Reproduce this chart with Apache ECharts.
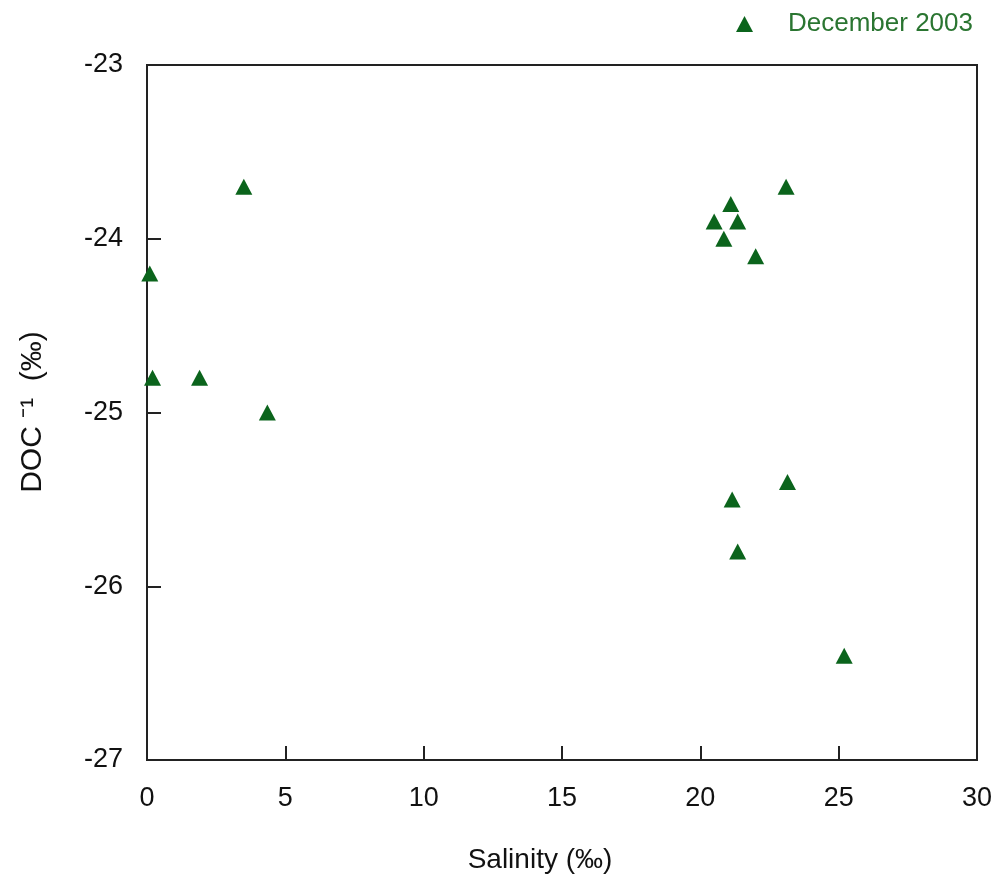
<!DOCTYPE html>
<html>
<head>
<meta charset="utf-8">
<script src="https://cdn.jsdelivr.net/npm/echarts@6/dist/echarts.min.js"></script>
<style>html,body{margin:0;padding:0;background:#fff}#c{width:1000px;height:886px}</style>
</head>
<body>
<div id="c"></div>
<script>
const seriesName = 'December 2003';
const salinity = [3.5, 0.1, 0.2, 1.9, 4.35, 23.1, 21.1, 20.5, 21.35, 20.85, 22.0, 23.15, 21.15, 21.35, 25.2];
const doc = [-23.7, -24.2, -24.8, -24.8, -25.0, -23.7, -23.8, -23.9, -23.9, -24.0, -24.1, -25.4, -25.5, -25.8, -26.4];
const xTicks = [0, 5, 10, 15, 20, 25, 30];
const yTicks = [-27, -26, -25, -24, -23];
const xTitle = 'Salinity (‰)';
const yTitle = 'DOC ⁻¹  (‰)';

const green = '#0b641c';
const font = '"Liberation Sans", Arial, sans-serif';
const chart = echarts.init(document.getElementById('c'));
chart.setOption({
  animation: false,
  backgroundColor: '#fff',
  grid: {left: 147, right: 23, top: 65, bottom: 126, show: true, borderColor: '#222', borderWidth: 2, backgroundColor: 'transparent'},
  legend: {
    data: [seriesName], left: 731, top: 6, icon: 'triangle', itemWidth: 17, itemHeight: 16, itemGap: 10,
    textStyle: {color: '#2a7531', fontSize: 26, fontFamily: font, padding: [0, 0, 0, 30]}
  },
  xAxis: {
    type: 'value', min: xTicks[0], max: xTicks[xTicks.length - 1], interval: 5,
    axisLine: {show: true, lineStyle: {color: '#222', width: 2}},
    axisTick: {show: true, inside: true, length: 14, lineStyle: {color: '#222', width: 2}},
    axisLabel: {color: '#111', fontSize: 27, fontFamily: font, margin: 25},
    splitLine: {show: false}
  },
  yAxis: {
    type: 'value', min: yTicks[0], max: yTicks[yTicks.length - 1], interval: 1,
    axisLine: {show: true, lineStyle: {color: '#222', width: 2}},
    axisTick: {show: true, inside: true, length: 14, lineStyle: {color: '#222', width: 2}},
    axisLabel: {color: '#111', fontSize: 27, fontFamily: font, margin: 24},
    splitLine: {show: false}
  },
  graphic: [
    {type: 'text', x: 540, y: 860, style: {text: xTitle, font: '28px ' + font, fill: '#111', textAlign: 'center', textVerticalAlign: 'middle'}},
    {type: 'text', rotation: Math.PI / 2, x: 33, y: 412, style: {text: yTitle, font: '30px ' + font, fill: '#111', textAlign: 'center', textVerticalAlign: 'middle'}}
  ],
  series: [{
    name: seriesName, type: 'scatter', symbol: 'triangle', symbolSize: [17, 16],
    itemStyle: {color: green, opacity: 1},
    data: salinity.map((s, i) => [s, doc[i]])
  }]
});
</script>
</body>
</html>
